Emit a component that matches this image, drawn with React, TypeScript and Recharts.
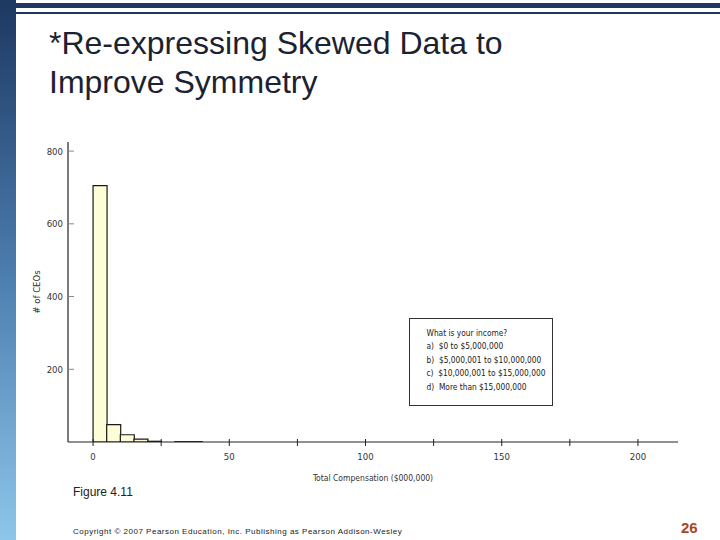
import { BarChart, Bar, XAxis, YAxis } from 'recharts'

// histogram bins, $000,000 (bin start), width 5
const binStarts = [0, 5, 10, 15, 20, 25, 30, 35]
const ceoCounts = [705, 48, 20, 8, 2, 0, 1, 1]
const binWidth = 5

const xTicks = [0, 25, 50, 75, 100, 125, 150, 175, 200]
const xLabelled = [0, 50, 100, 150, 200]
const yTicks = [200, 400, 600, 800]

const incomeQuestion = 'What is your income?'
const incomeOptions = [
  'a)  $0 to $5,000,000',
  'b)  $5,000,001 to $10,000,000',
  'c)  $10,000,001 to $15,000,000',
  'd)  More than $15,000,000',
]

const data = binStarts.map((s, i) => ({ mid: s + binWidth / 2, count: ceoCounts[i] }))

const narrow = '"DejaVu Sans Condensed", "Liberation Sans Narrow", "Liberation Sans", Arial, sans-serif'
const sans = '"Liberation Sans", Arial, sans-serif'
const navy = '#1d3861'

function XTick(props: any) {
  const { x, y, payload } = props
  const show = xLabelled.includes(payload.value)
  return (
    <g>
      <line x1={x} x2={x} y1={y - 3} y2={y + 4} stroke="#222" strokeWidth={1} />
      {show && (
        <text x={x} y={y + 18} textAnchor="middle" fontFamily={narrow} fontSize={9.5} fill="#333">
          {payload.value}
        </text>
      )}
    </g>
  )
}

function YTick(props: any) {
  const { x, y, payload } = props
  return (
    <g>
      <line x1={x} x2={x + 6} y1={y} y2={y} stroke="#888" strokeWidth={1} />
      <text x={x - 5} y={y + 3.5} textAnchor="end" fontFamily={narrow} fontSize={9.5} fill="#333">
        {payload.value}
      </text>
    </g>
  )
}

export default function App() {
  return (
    <div style={{ position: 'absolute', left: 0, top: 0, width: 720, height: 540, background: '#fff', overflow: 'hidden' }}>
      {/* slide frame */}
      <div
        style={{
          position: 'absolute',
          left: 0,
          top: 0,
          width: 16,
          height: 540,
          background: 'linear-gradient(to bottom, #1d3861 0%, #4b7cae 50%, #8ec6ea 100%)',
        }}
      />
      <div style={{ position: 'absolute', left: 16, top: 3, width: 704, height: 5, background: navy }} />
      <div style={{ position: 'absolute', left: 16, top: 12, width: 704, height: 2, background: navy }} />

      <BarChart
        width={720}
        height={500}
        data={data}
        margin={{ top: 142, right: 42, bottom: 15, left: 26 }}
        barCategoryGap={0}
        barGap={0}
        style={{ position: 'absolute', left: 0, top: 0 }}
      >
        <XAxis
          type="number"
          dataKey="mid"
          domain={[-9.2, 214.7]}
          allowDataOverflow
          ticks={xTicks}
          interval={0}
          tickSize={0}
          tickMargin={0}
          tick={<XTick />}
          axisLine={{ stroke: '#222', strokeWidth: 1.2 }}
          height={43}
          label={{
            value: 'Total Compensation ($000,000)',
            position: 'insideBottom',
            offset: 4,
            style: { fontFamily: narrow, fontSize: 8.5, fill: '#333' },
          }}
        />
        <YAxis
          type="number"
          domain={[0, 825]}
          allowDataOverflow
          ticks={yTicks}
          interval={0}
          tickSize={0}
          tickMargin={0}
          tick={<YTick />}
          axisLine={{ stroke: '#222', strokeWidth: 1.2 }}
          width={42}
          label={{
            value: '# of CEOs',
            angle: -90,
            position: 'insideLeft',
            offset: 11,
            style: { fontFamily: narrow, fontSize: 9.5, fill: '#333', textAnchor: 'middle' },
          }}
        />
        <Bar dataKey="count" fill="#fefed6" stroke="#1a1a1a" strokeWidth={1.2} isAnimationActive={false} />
      </BarChart>

      <svg width={720} height={540} style={{ position: 'absolute', left: 0, top: 0, pointerEvents: 'none' }}>
        {/* question box */}
        <rect x={409.5} y={318.5} width={143} height={87} fill="#fff" stroke="#333" strokeWidth={1} />
        <text x={426.5} y={335.5} fontFamily={narrow} fontSize={8.3} fill="#222">
          {incomeQuestion}
        </text>
        {incomeOptions.map((t, i) => (
          <text key={t} x={426.5} y={349 + i * 13.5} fontFamily={narrow} fontSize={8.3} fill="#222" style={{ whiteSpace: 'pre' }}>
            {t}
          </text>
        ))}

        <text x={49} y={54} fontFamily={sans} fontSize={32} fill="#1b2230">
          *Re-expressing Skewed Data to
        </text>
        <text x={49} y={93} fontFamily={sans} fontSize={32} fill="#1b2230">
          Improve Symmetry
        </text>

        <text x={73} y={496} fontFamily={sans} fontSize={12} fill="#222">
          Figure 4.11
        </text>
        <text x={73} y={534} fontFamily={sans} fontSize={8} fill="#222" letterSpacing={0.5}>
          Copyright © 2007 Pearson Education, Inc. Publishing as Pearson Addison-Wesley
        </text>
        <text x={681} y={533} fontFamily={sans} fontSize={15} fontWeight="bold" fill="#a4481e">
          26
        </text>
      </svg>
    </div>
  )
}
